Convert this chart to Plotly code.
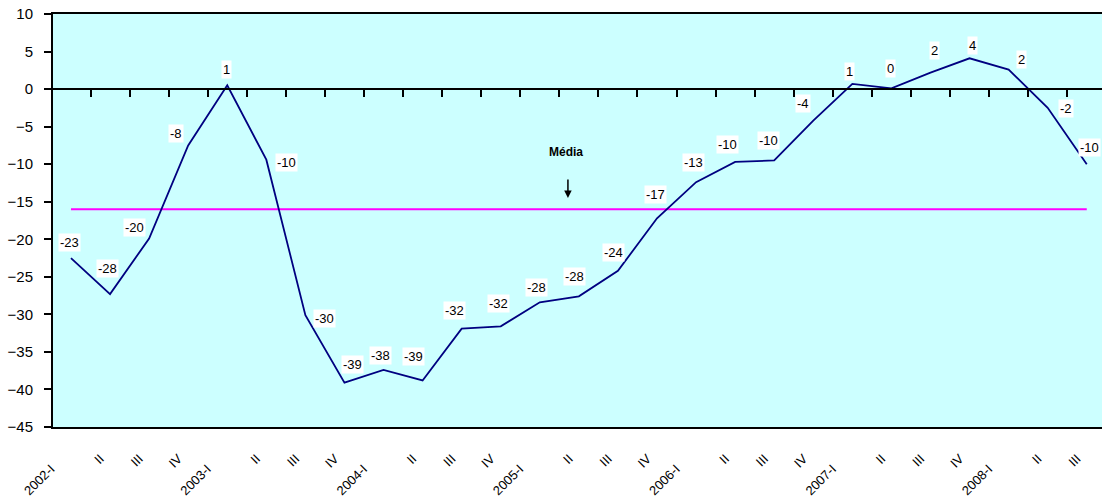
import plotly.graph_objects as go

# Data
PERIODS = [
    "2002-I", "II", "III", "IV",
    "2003-I", "II", "III", "IV",
    "2004-I", "II", "III", "IV",
    "2005-I", "II", "III", "IV",
    "2006-I", "II", "III", "IV",
    "2007-I", "II", "III", "IV",
    "2008-I", "II", "III",
]
VALUES = [
    -22.5, -27.3, -19.9, -7.5,
    0.5, -9.4, -30.1, -39.1,
    -37.4, -38.8, -31.9, -31.6,
    -28.4, -27.6, -24.2, -17.2,
    -12.4, -9.7, -9.5, -4.2,
    0.7, 0.1, 2.2, 4.1,
    2.6, -2.5, -10.0,
]
LABELS = [
    "-23", "-28", "-20", "-8",
    "1", "-10", "-30", "-39",
    "-38", "-39", "-32", "-32",
    "-28", "-28", "-24", "-17",
    "-13", "-10", "-10", "-4",
    "1", "0", "2", "4",
    "2", "-2", "-10",
]
MEDIA = -16.0
Y_TICKS = list(range(-45, 11, 5))

# label placement (pixel shifts from the point), as in the original sheet
LABEL_SHIFT = [
    (-1, 16), (-3, 26), (-15, 11), (-12, 12),
    (-1, 16), (20, -3), (19, -3), (8, 18),
    (-3, 14), (-9, 24), (-7, 18), (-2, 23),
    (-3, 15), (-4, 20), (-4, 18), (-2, 24),
    (-3, 20), (-8, 17), (-6, 20), (-10, 17),
    (-3, 12), (-1, 20), (4, 22), (3, 13),
    (13, 10), (18, -1), (3, 17),
]

FONT = "Arial, Liberation Sans, sans-serif"
x = list(range(len(PERIODS)))

# Excel centres its rotated labels, so the long year labels sit lower-left
tick_text = [p + "\u00a0" * 4 if len(p) > 3 else p for p in PERIODS]

fig = go.Figure()

# mean line
fig.add_trace(go.Scatter(
    x=[x[0], x[-1]], y=[MEDIA, MEDIA],
    mode="lines", line=dict(color="#ff00ff", width=2),
    hoverinfo="skip", showlegend=False,
))

# series
fig.add_trace(go.Scatter(
    x=x, y=VALUES, mode="lines",
    line=dict(color="#000080", width=1.8),
    showlegend=False,
))

# invisible trace to carry the zero-crossing category axis
fig.add_trace(go.Scatter(
    x=x, y=VALUES, xaxis="x2", mode="lines",
    line=dict(width=0), hoverinfo="skip", showlegend=False,
))

for i, (v, lab) in enumerate(zip(VALUES, LABELS)):
    dx, dy = LABEL_SHIFT[i]
    fig.add_annotation(
        x=i, y=v, text=lab, showarrow=False,
        xshift=dx, yshift=dy,
        bgcolor="white", borderpad=1,
        font=dict(family=FONT, size=13, color="black"),
    )

# "Média" marker with arrow
fig.add_annotation(
    x=12.68, y=-8.4, text="<b>Média</b>", showarrow=False,
    font=dict(family=FONT, size=12, color="black"),
)
fig.add_annotation(
    x=12.72, y=-14.5, text="", showarrow=True,
    ax=0, ay=-20, arrowhead=2, arrowsize=1, arrowwidth=1.5,
    arrowcolor="black",
)

x_range = [-0.46, 26.39]

fig.update_layout(
    width=1102,
    height=501,
    margin=dict(l=53, r=0, t=14, b=74),
    paper_bgcolor="white",
    plot_bgcolor="#ccffff",
    font=dict(family=FONT, size=12, color="black"),
    xaxis=dict(
        range=x_range,
        tickmode="array",
        tickvals=[i - 0.25 for i in x],
        ticktext=tick_text,
        tickangle=-45,
        ticks="outside",
        ticklen=17,
        tickcolor="rgba(0,0,0,0)",
        showgrid=False,
        zeroline=False,
        showline=True,
        linecolor="black",
        linewidth=2,
        mirror=True,
        tickfont=dict(family=FONT, size=13),
    ),
    xaxis2=dict(
        overlaying="x",
        matches="x",
        anchor="free",
        position=45 / 55,
        side="bottom",
        tickmode="array",
        tickvals=[i + 0.5 for i in x[:-1]],
        ticks="outside",
        ticklen=7,
        tickwidth=2,
        tickcolor="black",
        showticklabels=False,
        showgrid=False,
        zeroline=False,
        showline=True,
        linecolor="black",
        linewidth=1.5,
    ),
    yaxis=dict(
        range=[-45, 10],
        tickmode="array",
        tickvals=Y_TICKS,
        ticks="outside",
        ticklen=7,
        tickwidth=2,
        tickcolor="black",
        ticklabelstandoff=8,
        showgrid=False,
        zeroline=False,
        showline=True,
        linecolor="black",
        linewidth=2,
        tickfont=dict(family=FONT, size=15),
    ),
)

fig.write_html(
    "out.html",
    config={"displayModeBar": False},
    post_script="document.body.style.margin='0';document.body.style.overflow='hidden';",
)
